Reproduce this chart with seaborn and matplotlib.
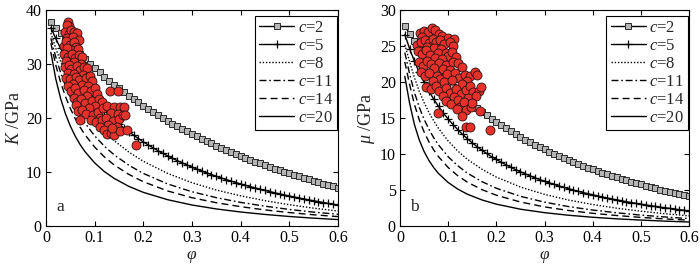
import matplotlib
matplotlib.use('Agg')
import matplotlib.pyplot as plt
import seaborn as sns

# ---- data ----
# porosity grid of the marked curves (c=2, c=5)
phi_fine = [0.01, 0.02, 0.03, 0.04, 0.05, 0.06, 0.07, 0.08, 0.09, 0.10,
            0.11, 0.12, 0.13, 0.14, 0.15, 0.16, 0.17, 0.18, 0.19, 0.20,
            0.21, 0.22, 0.23, 0.24, 0.25, 0.26, 0.27, 0.28, 0.29, 0.30,
            0.31, 0.32, 0.33, 0.34, 0.35, 0.36, 0.37, 0.38, 0.39, 0.40,
            0.41, 0.42, 0.43, 0.44, 0.45, 0.46, 0.47, 0.48, 0.49, 0.50,
            0.51, 0.52, 0.53, 0.54, 0.55, 0.56, 0.57, 0.58, 0.59, 0.60]
# porosity grid of the plain curves (c=8 .. c=20)
phi_coarse = [0.01, 0.02, 0.03, 0.04, 0.05, 0.06, 0.07, 0.08, 0.10, 0.12, 0.14,
              0.17, 0.20, 0.25, 0.30, 0.35, 0.40, 0.45, 0.50, 0.55, 0.60]

# panel a: bulk modulus K (GPa)
K_c2 = [37.85, 36.75, 35.69, 34.67, 33.68, 32.73, 31.82, 30.93, 30.08, 29.25,
        28.45, 27.68, 26.93, 26.20, 25.50, 24.82, 24.16, 23.51, 22.89, 22.29,
        21.70, 21.13, 20.57, 20.03, 19.50, 18.99, 18.49, 18.00, 17.53, 17.06,
        16.61, 16.17, 15.74, 15.32, 14.91, 14.51, 14.12, 13.74, 13.37, 13.00,
        12.64, 12.29, 11.95, 11.62, 11.29, 10.97, 10.65, 10.35, 10.05, 9.75,
        9.46, 9.18, 8.90, 8.63, 8.36, 8.09, 7.84, 7.58, 7.33, 7.09]
K_c5 = [36.77, 34.75, 32.90, 31.20, 29.64, 28.20, 26.87, 25.63, 24.48, 23.40,
        22.39, 21.45, 20.56, 19.73, 18.94, 18.20, 17.50, 16.83, 16.20, 15.60,
        15.03, 14.49, 13.97, 13.47, 13.00, 12.55, 12.11, 11.70, 11.30, 10.92,
        10.55, 10.20, 9.86, 9.53, 9.22, 8.91, 8.62, 8.34, 8.06, 7.80,
        7.54, 7.30, 7.06, 6.83, 6.60, 6.38, 6.17, 5.96, 5.77, 5.57,
        5.38, 5.20, 5.02, 4.85, 4.68, 4.52, 4.36, 4.20, 4.05, 3.90]
K_c8 = [35.75, 32.95, 30.51, 28.36, 26.46, 24.77, 23.25, 21.88, 19.50, 17.51, 15.82,
        13.72, 12.00, 9.75, 8.03, 6.67, 5.60, 4.70, 3.95, 3.32, 2.78]
K_c11 = [34.78, 31.33, 28.44, 26.00, 23.90, 22.08, 20.49, 19.09, 16.71, 14.79, 13.20,
         11.28, 9.75, 7.80, 6.35, 5.26, 4.38, 3.68, 3.08, 2.58, 2.18]
K_c14 = [33.87, 29.86, 26.64, 24.00, 21.79, 19.92, 18.32, 16.92, 14.63, 12.81, 11.33,
         9.58, 8.21, 6.50, 5.25, 4.32, 3.59, 2.99, 2.50, 2.09, 1.75]
K_c20 = [32.18, 27.30, 23.64, 20.80, 18.53, 16.66, 15.11, 13.80, 11.70, 10.09, 8.83,
         7.36, 6.24, 4.88, 3.90, 3.17, 2.60, 2.15, 1.77, 1.46, 1.20]

# panel b: shear modulus mu (GPa)
mu_c2 = [27.78, 26.72, 25.72, 24.77, 23.87, 23.02, 22.21, 21.44, 20.71, 20.01,
         19.34, 18.70, 18.09, 17.50, 16.94, 16.40, 15.89, 15.39, 14.91, 14.45,
         14.01, 13.58, 13.17, 12.77, 12.39, 12.01, 11.66, 11.31, 10.97, 10.65,
         10.33, 10.03, 9.73, 9.44, 9.16, 8.89, 8.63, 8.37, 8.12, 7.88,
         7.65, 7.42, 7.19, 6.98, 6.76, 6.56, 6.36, 6.16, 5.97, 5.78,
         5.60, 5.42, 5.24, 5.07, 4.91, 4.74, 4.59, 4.43, 4.28, 4.13]
mu_c5 = [26.61, 24.63, 22.88, 21.34, 19.97, 18.74, 17.62, 16.62, 15.70, 14.86,
         14.09, 13.39, 12.73, 12.12, 11.56, 11.03, 10.54, 10.08, 9.65, 9.25,
         8.87, 8.51, 8.17, 7.84, 7.54, 7.25, 6.97, 6.71, 6.46, 6.22,
         6.00, 5.78, 5.57, 5.37, 5.18, 5.00, 4.82, 4.65, 4.49, 4.34,
         4.18, 4.04, 3.90, 3.76, 3.63, 3.51, 3.38, 3.27, 3.15, 3.04,
         2.93, 2.83, 2.73, 2.63, 2.54, 2.45, 2.36, 2.27, 2.18, 2.10]
mu_c8 = [25.20, 22.84, 20.61, 18.74, 17.16, 15.80, 14.61, 13.57, 11.82, 10.42, 9.27,
         7.89, 6.80, 5.42, 4.40, 3.61, 2.99, 2.48, 2.06, 1.71, 1.41]
mu_c11 = [24.10, 21.13, 18.56, 16.51, 14.84, 13.45, 12.27, 11.27, 9.63, 8.37, 7.35,
          6.17, 5.25, 4.13, 3.32, 2.70, 2.22, 1.84, 1.52, 1.26, 1.03]
mu_c14 = [22.80, 19.67, 16.89, 14.76, 13.08, 11.71, 10.58, 9.63, 8.13, 6.99, 6.09,
          5.06, 4.28, 3.34, 2.66, 2.16, 1.77, 1.46, 1.20, 0.99, 0.81]
mu_c20 = [20.80, 17.06, 14.09, 11.96, 10.36, 9.12, 8.12, 7.30, 6.05, 5.13, 4.42,
          3.63, 3.04, 2.34, 1.86, 1.50, 1.22, 1.00, 0.83, 0.68, 0.56]

# measured samples, panel a
phi_pts_a = [0.046, 0.048, 0.044,
             0.040, 0.047, 0.052, 0.058, 0.063, 0.044, 0.055, 0.068,
             0.036, 0.042, 0.049, 0.057, 0.062, 0.051, 0.044, 0.066,
             0.038, 0.046, 0.054, 0.060, 0.068, 0.075, 0.041, 0.058, 0.072,
             0.039, 0.047, 0.052, 0.064, 0.070, 0.079, 0.085, 0.045, 0.058, 0.076,
             0.042, 0.050, 0.062, 0.068, 0.082, 0.090, 0.094, 0.055, 0.073, 0.086,
             0.046, 0.052, 0.060, 0.066, 0.078, 0.092, 0.100, 0.104, 0.085, 0.132, 0.149,
             0.058, 0.064, 0.072, 0.080, 0.094, 0.108, 0.115, 0.100, 0.088,
             0.062, 0.066, 0.074, 0.083, 0.096, 0.106, 0.118, 0.126, 0.140, 0.152,
             0.160, 0.133, 0.147, 0.110, 0.070,
             0.092, 0.102, 0.116, 0.124, 0.138, 0.150, 0.158, 0.163, 0.128, 0.112, 0.145,
             0.120, 0.125, 0.134, 0.140, 0.152, 0.166, 0.136, 0.185]
K_pts = [37.8, 37.0, 37.2,
         36.0, 35.5, 36.4, 35.9, 35.8, 34.9, 35.1, 34.5,
         33.4, 34.2, 33.6, 34.0, 33.1, 32.6, 32.9, 32.8,
         31.8, 31.3, 31.9, 31.2, 31.7, 31.4, 30.6, 30.3, 30.0,
         29.4, 29.8, 29.1, 29.6, 28.9, 29.5, 29.2, 28.3, 28.1, 28.0,
         27.5, 27.2, 27.6, 27.0, 27.4, 27.8, 26.8, 26.4, 26.2, 26.0,
         25.9, 25.0, 25.5, 24.6, 25.2, 25.0, 25.6, 24.4, 24.1, 25.1, 25.1,
         23.8, 23.0, 23.5, 22.8, 23.2, 23.6, 22.9, 22.2, 21.9,
         22.4, 21.4, 21.5, 20.8, 20.6, 21.2, 21.8, 22.3, 22.0, 22.1,
         22.0, 21.0, 20.7, 20.1, 19.7,
         19.6, 19.3, 19.7, 20.0, 19.4, 19.8, 20.6, 20.5, 18.7, 18.4, 18.3,
         17.7, 17.0, 17.2, 16.9, 17.6, 17.8, 18.2, 15.1]

# measured samples, panel b
phi_pts_b = [0.042, 0.050, 0.058, 0.066, 0.072, 0.080, 0.088, 0.100, 0.112, 0.046,
             0.036, 0.044, 0.052, 0.060, 0.068, 0.075, 0.083, 0.092, 0.104, 0.110,
             0.056, 0.070, 0.086,
             0.038, 0.046, 0.053, 0.062, 0.078, 0.095, 0.100, 0.108, 0.116, 0.072, 0.088,
             0.040, 0.048, 0.056, 0.064, 0.080, 0.096, 0.110, 0.120, 0.128, 0.070,
             0.090, 0.104,
             0.044, 0.052, 0.060, 0.076, 0.084, 0.098, 0.114, 0.122, 0.134, 0.146,
             0.156, 0.160, 0.068, 0.092, 0.108, 0.140, 0.128,
             0.054, 0.064, 0.074, 0.082, 0.096, 0.104, 0.116, 0.126, 0.136, 0.146,
             0.152, 0.164, 0.168, 0.112, 0.090, 0.142, 0.158,
             0.096, 0.106, 0.120, 0.124, 0.132, 0.138, 0.148, 0.150, 0.118,
             0.079, 0.128, 0.138, 0.145, 0.187, 0.166]
mu_pts = [26.8, 27.1, 26.9, 27.5, 27.2, 26.7, 26.4, 26.1, 26.0, 26.2,
          25.2, 25.6, 25.9, 25.4, 26.0, 25.5, 25.8, 25.3, 25.6, 25.0,
          24.9, 24.8, 24.6,
          24.3, 23.9, 24.4, 23.7, 24.0, 24.1, 23.6, 24.2, 23.5, 23.4, 23.2,
          22.8, 22.3, 22.9, 22.5, 22.6, 22.4, 22.8, 22.6, 22.1, 21.9,
          21.8, 21.7,
          21.4, 20.8, 21.2, 20.9, 20.4, 21.1, 21.3, 20.6, 21.0, 20.8,
          21.4, 21.0, 20.2, 20.0, 20.3, 20.1, 19.8,
          19.3, 19.0, 19.5, 18.7, 19.2, 18.5, 19.0, 18.3, 18.9, 19.4,
          18.6, 18.8, 19.3, 17.9, 18.1, 17.8, 18.0,
          17.4, 17.0, 17.5, 16.6, 17.2, 16.1, 16.5, 17.1, 16.2,
          15.7, 15.3, 13.7, 13.7, 13.3, 16.0]

c_values = [2, 5, 8, 11, 14, 20]
x_ticks = [0, 0.1, 0.2, 0.3, 0.4, 0.5, 0.6]
x_tick_labels = ['0', '0.1', '0.2', '0.3', '0.4', '0.5', '0.6']

# ---- style ----
sns.set_style('ticks')
plt.rcParams['font.family'] = ['Liberation Serif', 'DejaVu Serif']
plt.rcParams['mathtext.fontset'] = 'custom'
plt.rcParams['mathtext.rm'] = 'Liberation Serif'
plt.rcParams['mathtext.it'] = 'Liberation Serif:italic'
plt.rcParams['axes.edgecolor'] = 'black'
plt.rcParams['axes.linewidth'] = 0.8
plt.rcParams['xtick.color'] = 'black'
plt.rcParams['ytick.color'] = 'black'

# seaborn paints marker edges white unless told otherwise
line_styles = {
    2: dict(linestyle='-', marker='s', markersize=3.8, markerfacecolor='#b5b5b5',
            markeredgecolor='#2a2a2a', markeredgewidth=0.7),
    5: dict(linestyle='-', marker='+', markersize=5.5, markeredgecolor='black',
            markeredgewidth=0.9),
    8: dict(linestyle=(0, (1, 1.3))),
    11: dict(linestyle=(0, (5, 2, 1.2, 2))),
    14: dict(linestyle=(0, (5, 3))),
    20: dict(linestyle='-'),
}


def draw_panel(ax, curves, pts_x, pts_y, ylim, yticks, ylabel, tag):
    for c, (xs, ys) in zip(c_values, curves):
        sns.lineplot(x=xs, y=ys, ax=ax, color='black', linewidth=1.0, sort=False,
                     errorbar=None, label=r'$c$=%d' % c, **line_styles[c])
    sns.scatterplot(x=pts_x, y=pts_y, ax=ax, s=42, color='#e6302a',
                    edgecolor='#2a1414', linewidth=0.6, zorder=3, legend=False)

    ax.set_xlim(0, 0.6)
    ax.set_ylim(*ylim)
    ax.set_xticks(x_ticks)
    ax.set_xticklabels(x_tick_labels)
    ax.set_yticks(yticks)
    ax.tick_params(direction='in', top=True, right=True, length=3.5, width=0.8,
                   labelsize=11.5, pad=3)
    ax.set_xlabel(r'$\varphi$', fontsize=12.5, labelpad=2)
    ax.set_ylabel(ylabel, fontsize=13, labelpad=2)
    ax.text(0.035, 0.07, tag, transform=ax.transAxes, fontsize=12.5)

    leg = ax.legend(loc='upper right', bbox_to_anchor=(0.997, 0.972), borderaxespad=0,
                    frameon=True, fancybox=False, edgecolor='black', framealpha=1,
                    fontsize=12, handlelength=2.1, handletextpad=0.2,
                    labelspacing=0.12, borderpad=0.25)
    leg.get_frame().set_linewidth(0.8)


fig = plt.figure(figsize=(7.0, 2.73), dpi=100)
ax_a = fig.add_axes([0.0657, 0.172, 0.417, 0.791])
ax_b = fig.add_axes([0.5714, 0.172, 0.413, 0.791])

curves_a = [(phi_fine, K_c2), (phi_fine, K_c5), (phi_coarse, K_c8),
            (phi_coarse, K_c11), (phi_coarse, K_c14), (phi_coarse, K_c20)]
curves_b = [(phi_fine, mu_c2), (phi_fine, mu_c5), (phi_coarse, mu_c8),
            (phi_coarse, mu_c11), (phi_coarse, mu_c14), (phi_coarse, mu_c20)]

draw_panel(ax_a, curves_a, phi_pts_a, K_pts, (0, 40), [0, 10, 20, 30, 40],
           r'$K$ /GPa', 'a')
draw_panel(ax_b, curves_b, phi_pts_b, mu_pts, (0, 30), [0, 5, 10, 15, 20, 25, 30],
           r'$\mu$ /GPa', 'b')

fig.savefig('out.png', dpi=100)
